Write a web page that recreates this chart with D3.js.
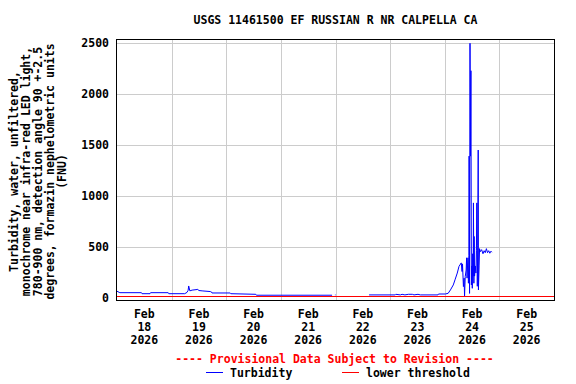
<!DOCTYPE html>
<html lang="en">
<head>
  <meta charset="utf-8">
  <script src="https://d3js.org/d3.v7.min.js"></script>
  <style>
    body { margin: 0; background: #fff; }
    text { font-family: "DejaVu Sans Mono", monospace; font-weight: bold; }
  </style>
</head>
<body>
  <div id="my_dataviz"></div>
  <script>
    // data (15-min gage record, hand picked points)
    const times = [
      "2026-02-18 00:00", "2026-02-18 01:15", "2026-02-18 10:45", "2026-02-18 11:00",
      "2026-02-18 14:30", "2026-02-18 14:45", "2026-02-18 22:30", "2026-02-18 22:45",
      "2026-02-19 05:45", "2026-02-19 06:45", "2026-02-19 07:15", "2026-02-19 07:30",
      "2026-02-19 08:00", "2026-02-19 09:00", "2026-02-19 11:30", "2026-02-19 12:00",
      "2026-02-19 13:45", "2026-02-19 17:00", "2026-02-19 17:30", "2026-02-19 17:45",
      "2026-02-20 01:45", "2026-02-20 02:00", "2026-02-20 13:00", "2026-02-20 13:15",
      "2026-02-21 22:30", "2026-02-21 23:00", "2026-02-21 23:45", "2026-02-22 00:00",
      "2026-02-22 04:00", "2026-02-22 14:45", "2026-02-23 02:15", "2026-02-23 02:30",
      "2026-02-23 04:30", "2026-02-23 05:15", "2026-02-23 06:30", "2026-02-23 08:00",
      "2026-02-23 09:45", "2026-02-23 10:30", "2026-02-23 12:15", "2026-02-23 13:15",
      "2026-02-23 21:00", "2026-02-23 21:15", "2026-02-24 00:15", "2026-02-24 01:30",
      "2026-02-24 02:30", "2026-02-24 03:45", "2026-02-24 04:30", "2026-02-24 05:30",
      "2026-02-24 06:15", "2026-02-24 07:15", "2026-02-24 07:36", "2026-02-24 07:48",
      "2026-02-24 08:12", "2026-02-24 08:30", "2026-02-24 08:42", "2026-02-24 09:00",
      "2026-02-24 09:24", "2026-02-24 09:36", "2026-02-24 09:48", "2026-02-24 10:00",
      "2026-02-24 10:12", "2026-02-24 10:24", "2026-02-24 10:36", "2026-02-24 10:42",
      "2026-02-24 10:54", "2026-02-24 11:06", "2026-02-24 11:18", "2026-02-24 11:30",
      "2026-02-24 11:42", "2026-02-24 11:54", "2026-02-24 12:06", "2026-02-24 12:18",
      "2026-02-24 12:30", "2026-02-24 12:36", "2026-02-24 12:48", "2026-02-24 12:54",
      "2026-02-24 13:06", "2026-02-24 13:24", "2026-02-24 13:42", "2026-02-24 13:54",
      "2026-02-24 14:06", "2026-02-24 14:18", "2026-02-24 14:30", "2026-02-24 14:42",
      "2026-02-24 14:48", "2026-02-24 15:06", "2026-02-24 15:18", "2026-02-24 15:36",
      "2026-02-24 16:12", "2026-02-24 16:48", "2026-02-24 17:18", "2026-02-24 17:48",
      "2026-02-24 18:18", "2026-02-24 18:48", "2026-02-24 19:18", "2026-02-24 19:48",
      "2026-02-24 20:18", "2026-02-24 20:42"
    ];
    const turbidity = [
      61, 47, 47, 37,
      37, 47, 47, 37,
      37, 50, 70, 113,
      65, 72, 79, 68,
      64, 58, 54, 44,
      44, 37, 31, 22,
      22, null, 25, 25,
      null, 25, 25, 31,
      25, 31, 25, 31,
      31, 25, 31, 25,
      25, 34, 34, 41,
      74, 123, 173, 240,
      305, 340, 255, 330,
      107, 190, 15, 205,
      270, 390, 190, 310,
      390, 140, 410, 1390,
      40, 2500, 1390, 2230,
      123, 310, 90, 430,
      210, 930, 140, 600,
      210, 310, 240, 460,
      930, 110, 510, 1450,
      74, 310, 480, 450,
      470, 430, 460, 440,
      480, 440, 460, 435,
      455, 445
    ];
    const lowerThreshold = 15;
    const yTicks = [0, 500, 1000, 1500, 2000, 2500];
    const dayLabels = ["18", "19", "20", "21", "22", "23", "24", "25"];

    const parseTime = d3.timeParse("%Y-%m-%d %H:%M");
    const data = times.map((t, i) => ({date: parseTime(t), value: turbidity[i]}));

    // dimensions
    const W = 576, H = 384;
    const margin = {top: 39, right: 22, bottom: 84, left: 117},
        width = W - margin.left - margin.right,
        height = H - margin.top - margin.bottom;

    const svgRoot = d3.select("#my_dataviz")
      .append("svg")
        .attr("width", W)
        .attr("height", H);
    const svg = svgRoot.append("g")
        .attr("transform", `translate(${margin.left},${margin.top})`);

    const x = d3.scaleTime()
      .domain([new Date(2026, 1, 18), new Date(2026, 1, 26)])
      .range([0, width]);
    const y = d3.scaleLinear()
      .domain([-25, 2542])
      .range([height, 0]);

    // grid
    svg.append("g")
      .selectAll("line")
      .data(yTicks.slice(1))
      .join("line")
        .attr("x1", 0).attr("x2", width)
        .attr("y1", d => Math.round(y(d)) + 0.5).attr("y2", d => Math.round(y(d)) + 0.5)
        .attr("stroke", "#cccccc");
    const midnights = d3.timeDay.range(new Date(2026, 1, 19), new Date(2026, 1, 26));
    svg.append("g")
      .selectAll("line")
      .data(midnights)
      .join("line")
        .attr("x1", d => Math.round(x(d)) + 0.5).attr("x2", d => Math.round(x(d)) + 0.5)
        .attr("y1", 0).attr("y2", height)
        .attr("stroke", "#cccccc");

    // threshold
    svg.append("line")
      .attr("x1", 0).attr("x2", width)
      .attr("y1", Math.round(y(lowerThreshold)) + 0.5)
      .attr("y2", Math.round(y(lowerThreshold)) + 0.5)
      .attr("stroke", "#ff0000");

    // turbidity line
    svg.append("path")
      .datum(data)
      .attr("fill", "none")
      .attr("stroke", "#0000ff")
      .attr("stroke-width", 1)
      .attr("d", d3.line()
        .defined(d => d.value != null)
        .x(d => x(d.date))
        .y(d => y(d.value)));

    // border
    svg.append("rect")
      .attr("x", -0.5).attr("y", 0.5)
      .attr("width", width + 1).attr("height", height)
      .attr("fill", "none")
      .attr("stroke", "#000");

    // Y axis
    const yAxis = svg.append("g")
      .call(d3.axisLeft(y).tickValues(yTicks).tickFormat(d3.format("d")).tickSize(0).tickPadding(8));
    yAxis.select(".domain").remove();
    yAxis.selectAll("text")
      .style("font-family", "DejaVu Sans Mono")
      .style("font-weight", "bold")
      .style("font-size", "11.5px")
      .attr("fill", "#000");

    // X axis labels at noon
    const noons = dayLabels.map(d => new Date(2026, 1, +d, 12));
    const xLab = svg.append("g")
      .selectAll("text")
      .data(noons)
      .join("text")
        .attr("x", d => x(d))
        .attr("y", height + 18)
        .attr("text-anchor", "middle")
        .style("font-size", "11.5px");
    xLab.append("tspan").attr("x", d => x(d)).attr("dy", 0).text("Feb");
    xLab.append("tspan").attr("x", d => x(d)).attr("dy", 13).text((d, i) => dayLabels[i]);
    xLab.append("tspan").attr("x", d => x(d)).attr("dy", 13).text("2026");

    // title
    svgRoot.append("text")
      .attr("x", margin.left + width / 2)
      .attr("y", 24)
      .attr("text-anchor", "middle")
      .style("font-size", "11.5px")
      .text("USGS 11461500 EF RUSSIAN R NR CALPELLA CA");

    // Y axis title
    const yTitle = ["Turbidity, water, unfiltered,",
      "monochrome near infra-red LED light,",
      "780-900 nm, detection angle 90 +-2.5",
      "degrees, formazin nephelometric units",
      "(FNU)"];
    svgRoot.append("g")
      .attr("transform", `translate(0, ${margin.top + height / 2 + 2}) rotate(-90)`)
      .selectAll("text")
      .data(yTitle)
      .join("text")
        .attr("x", 0)
        .attr("y", (d, i) => 18 + i * 12)
        .attr("text-anchor", "middle")
        .style("font-size", "11.5px")
        .text(d => d);

    // legend
    svgRoot.append("text")
      .attr("x", margin.left + width / 2 - 1)
      .attr("y", 363)
      .attr("text-anchor", "middle")
      .attr("fill", "#ff0000")
      .style("font-size", "11.5px")
      .text("---- Provisional Data Subject to Revision ----");

    svgRoot.append("line")
      .attr("x1", 206).attr("x2", 223)
      .attr("y1", 372.5).attr("y2", 372.5)
      .attr("stroke", "#0000ff");
    svgRoot.append("text")
      .attr("x", 230).attr("y", 377)
      .style("font-size", "11.5px")
      .text("Turbidity");
    svgRoot.append("line")
      .attr("x1", 342).attr("x2", 359)
      .attr("y1", 372.5).attr("y2", 372.5)
      .attr("stroke", "#ff0000");
    svgRoot.append("text")
      .attr("x", 366).attr("y", 377)
      .style("font-size", "11.5px")
      .text("lower threshold");
  </script>
</body>
</html>
